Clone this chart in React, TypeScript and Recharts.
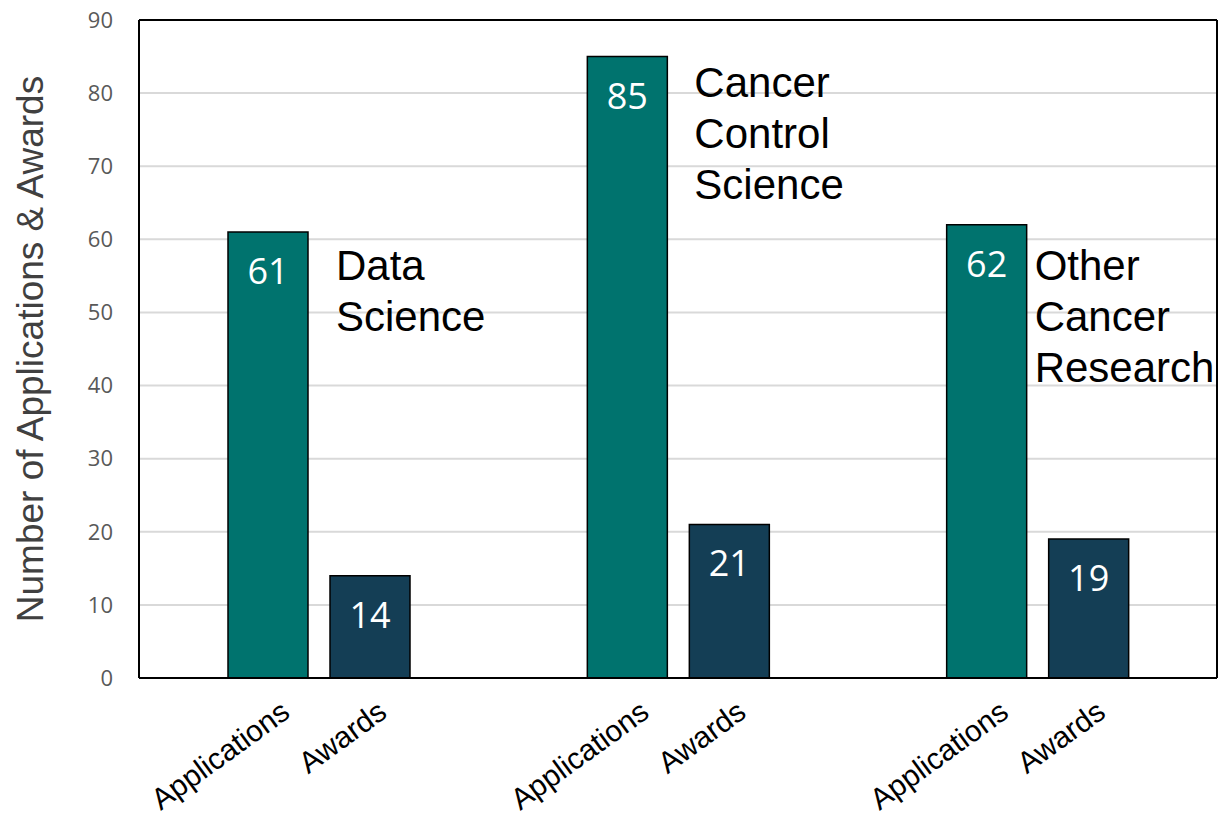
import { BarChart, Bar, XAxis, YAxis, CartesianGrid, LabelList } from 'recharts'

const CATEGORIES = ['Data Science', 'Cancer Control Science', 'Other Cancer Research']
const CATEGORY_LINES = [['Data', 'Science'], ['Cancer', 'Control', 'Science'], ['Other', 'Cancer', 'Research']]
const APPLICATIONS = [61, 85, 62]
const AWARDS = [14, 21, 19]
const SERIES = ['Applications', 'Awards']
const Y_TICKS = [0, 10, 20, 30, 40, 50, 60, 70, 80, 90]

// hand-placed text boxes next to the Applications bars (offset from bar top-right)
const NOTE_OFFSETS = [
  { dx: 28, dy: 48 },
  { dx: 27, dy: 40 },
  { dx: 8, dy: 55 },
]

const TEAL = '#00736E'
const NAVY = '#143E55'
const ARIAL = '"Liberation Sans", Arial, sans-serif'
const OPEN = '"Open Sans", sans-serif'

const BAR_SIZE = 80
const BAR_GAP = 22

const data = CATEGORIES.map((c, i) => ({
  category: c,
  applications: APPLICATIONS[i],
  awards: AWARDS[i],
}))

function ValueLabel(props: any) {
  const { x, y, width, value } = props
  return (
    <text x={x + width / 2} y={y + 52} textAnchor="middle" fill="#fff" fontSize={36} fontFamily={OPEN}>
      {value}
    </text>
  )
}

function NoteLabel(props: any) {
  const { x, y, width, value } = props
  const i = CATEGORIES.indexOf(value)
  if (i < 0) return null
  const off = NOTE_OFFSETS[i]
  const tx = x + width + off.dx
  return (
    <text x={tx} y={y + off.dy} fill="#000" fontSize={42} fontFamily={ARIAL}>
      {CATEGORY_LINES[i].map((line, k) => (
        <tspan key={k} x={tx} dy={k === 0 ? 0 : 51}>{line}</tspan>
      ))}
    </text>
  )
}

// two rotated series names under each category
function SeriesTick(props: any) {
  const { x, y } = props
  const half = (BAR_SIZE + BAR_GAP) / 2
  const ty = y + 30
  return (
    <g>
      {SERIES.map((s, k) => {
        const tx = k === 0 ? x - half + 24 : x + half + 19
        return (
          <text key={s} x={tx} y={ty} textAnchor="end" fill="#000" fontSize={30} fontFamily={ARIAL}
            transform={`rotate(-36 ${tx} ${ty})`}>
            {s}
          </text>
        )
      })}
    </g>
  )
}

function YTitle(props: any) {
  const { viewBox } = props
  const cy = viewBox.y + viewBox.height / 2
  return (
    <text x={43} y={cy} textAnchor="middle" fill="#404040" fontSize={37} fontFamily={ARIAL}
      transform={`rotate(-90 43 ${cy})`}>
      Number of Applications &amp; Awards
    </text>
  )
}

export default function App() {
  return (
    <div style={{ position: 'absolute', left: 0, top: 0, background: '#fff' }}>
      <BarChart
        width={1219}
        height={818}
        data={data}
        margin={{ top: 19, right: 0, bottom: 0, left: 0 }}
        barSize={BAR_SIZE}
        barGap={BAR_GAP}
      >
        <CartesianGrid horizontal vertical={false} stroke="#d9d9d9" strokeWidth={2} />
        <XAxis
          dataKey="category"
          interval={0}
          height={140}
          tickLine={false}
          axisLine={{ stroke: '#000', strokeWidth: 2 }}
          tick={<SeriesTick />}
        />
        <XAxis xAxisId="top" orientation="top" dataKey="category" height={1} tick={false} tickLine={false}
          axisLine={{ stroke: '#000', strokeWidth: 2 }} />
        <YAxis
          domain={[0, 90]}
          ticks={Y_TICKS}
          width={139}
          tickLine={false}
          tickSize={0}
          tickMargin={26}
          axisLine={{ stroke: '#000', strokeWidth: 2 }}
          tick={{ fill: '#595959', fontSize: 22, fontFamily: OPEN }}
          label={<YTitle />}
        />
        <YAxis yAxisId="right" orientation="right" width={2} domain={[0, 90]} tick={false} tickLine={false}
          axisLine={{ stroke: '#000', strokeWidth: 2 }} />
        <Bar dataKey="applications" name={SERIES[0]} fill={TEAL} stroke="#000" strokeWidth={1.5} isAnimationActive={false}>
          <LabelList dataKey="applications" content={<ValueLabel />} />
          <LabelList dataKey="category" content={<NoteLabel />} />
        </Bar>
        <Bar dataKey="awards" name={SERIES[1]} fill={NAVY} stroke="#000" strokeWidth={1.5} isAnimationActive={false}>
          <LabelList dataKey="awards" content={<ValueLabel />} />
        </Bar>
      </BarChart>
    </div>
  )
}
